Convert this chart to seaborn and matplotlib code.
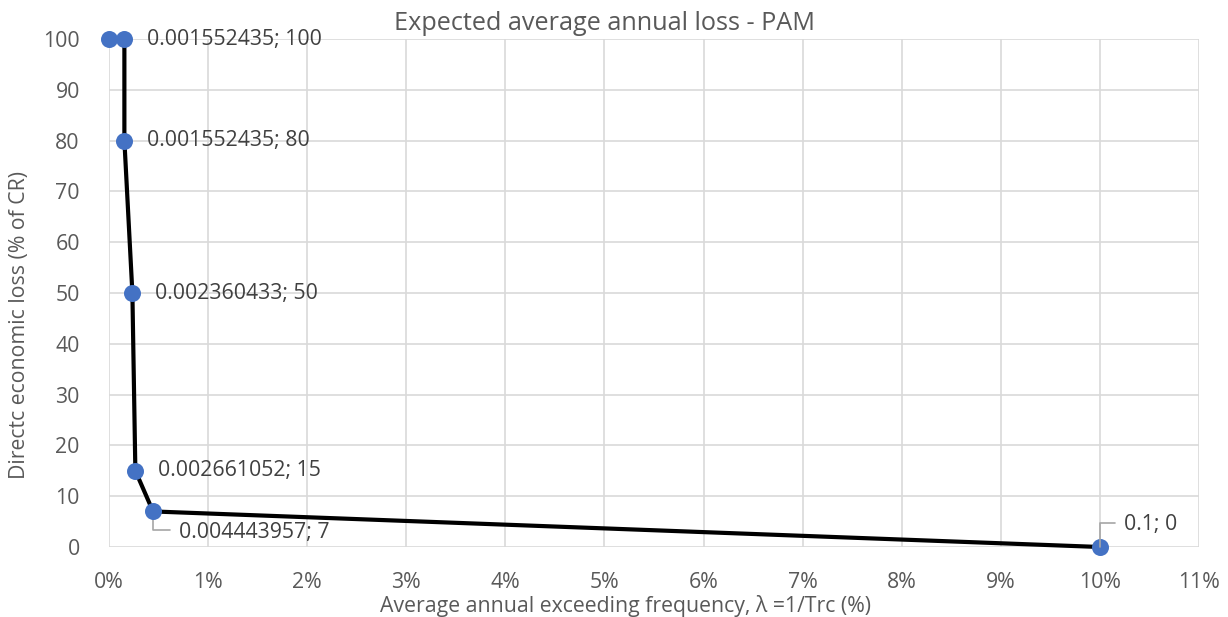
import matplotlib
matplotlib.use("Agg")
import matplotlib.pyplot as plt
import seaborn as sns
import pandas as pd
from matplotlib.ticker import FuncFormatter, MultipleLocator

# Data
freq = [0.0, 0.001552435, 0.001552435, 0.002360433, 0.002661052, 0.004443957, 0.1]
loss = [100, 100, 80, 50, 15, 7, 0]
labels = [None, "0.001552435; 100", "0.001552435; 80", "0.002360433; 50",
          "0.002661052; 15", "0.004443957; 7", "0.1; 0"]
title = "Expected average annual loss - PAM"
xlabel = "Average annual exceeding frequency, \u03bb =1/Trc (%)"
ylabel = "Directc economic loss (% of CR)"

df = pd.DataFrame({"freq": freq, "loss": loss})

sns.set_theme(style="white")
plt.rcParams["font.family"] = ["Open Sans", "DejaVu Sans"]
txt = "#595959"
fs = 15.3

fig = plt.figure(figsize=(12.28, 6.17), dpi=100)
ax = fig.add_axes([109/1228, 70/617, 1090/1228, 508/617])

sns.lineplot(data=df, x="freq", y="loss", sort=False, estimator=None,
             color="black", lw=3, ax=ax, zorder=3)
for ln in ax.lines:
    ln.set_clip_on(False)
    ln.set_solid_joinstyle("round")
sns.scatterplot(data=df, x="freq", y="loss", color="#4472C4", s=150,
                edgecolor="#4472C4", linewidth=0, ax=ax, zorder=4, clip_on=False)

ax.set_xlim(0, 0.11)
ax.set_ylim(0, 100)
ax.xaxis.set_major_locator(MultipleLocator(0.01))
ax.yaxis.set_major_locator(MultipleLocator(10))
ax.xaxis.set_major_formatter(FuncFormatter(lambda v, p: f"{v*100:.0f}%"))
ax.grid(True, color="#d9d9d9", lw=1.2)
for s in ax.spines.values():
    s.set_visible(False)
ax.tick_params(axis="both", length=0, labelsize=fs, colors=txt)
ax.tick_params(axis="y", pad=21)
ax.tick_params(axis="x", pad=18)
ax.set_xlabel("")
ax.set_ylabel("")

fig.text(625/1228, 1 - 606/617, xlabel, ha="center", va="center",
         fontsize=fs, color=txt)
fig.text(20/1228, 1 - 325/617, ylabel, ha="center", va="center",
         rotation=90, fontsize=fs, color=txt)
fig.text(605/1228, 1 - 23/617, title, ha="center", va="center",
         fontsize=18.2, color=txt)

lab_c = "#404040"
# data labels
for i in range(1, 5):
    ax.annotate(labels[i], (freq[i], loss[i]), xytext=(16, 0),
                textcoords="offset points", ha="left", va="center",
                fontsize=fs, color=lab_c, zorder=5)

# label with leader line for the 7 point
ax.annotate(labels[5], (freq[5], loss[5]), xytext=(19, -15),
            textcoords="offset points", ha="left", va="center",
            fontsize=fs, color=lab_c, zorder=5)
ax.annotate("", (freq[5], loss[5]), xytext=(12, -13.5), textcoords="offset points",
            arrowprops=dict(arrowstyle="-", color="#a6a6a6", lw=1.2,
                            connectionstyle="angle,angleA=0,angleB=90,rad=0",
                            shrinkA=0, shrinkB=0), zorder=2)

ax.annotate(labels[6], (freq[6], loss[6]), xytext=(17, 16),
            textcoords="offset points", ha="left", va="center",
            fontsize=fs, color=lab_c, zorder=5, annotation_clip=False)
ax.annotate("", (freq[6], loss[6]), xytext=(11, 17.5), textcoords="offset points",
            arrowprops=dict(arrowstyle="-", color="#a6a6a6", lw=1.2,
                            connectionstyle="angle,angleA=0,angleB=90,rad=0",
                            shrinkA=0, shrinkB=0), zorder=5, annotation_clip=False)

fig.savefig("out.png", dpi=100)
